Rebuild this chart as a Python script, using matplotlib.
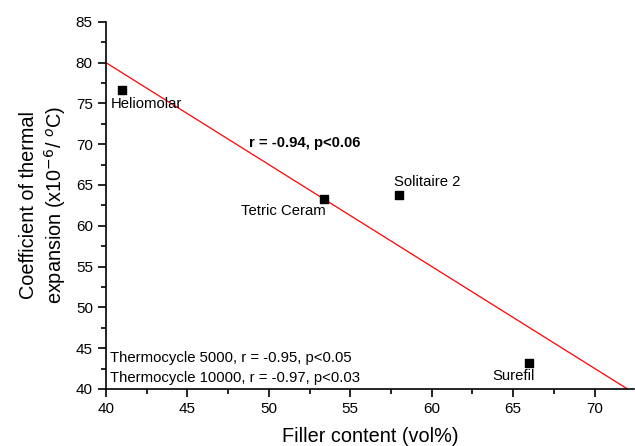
"""Filler content vs coefficient of thermal expansion."""
import numpy as np
import matplotlib
matplotlib.use('Agg')
import matplotlib.pyplot as plt
from matplotlib.ticker import MultipleLocator

plt.rcParams['font.family'] = ['Liberation Sans', 'DejaVu Sans']

materials = ['Heliomolar', 'Tetric Ceram', 'Solitaire 2', 'Surefil']
filler = [41.0, 53.4, 58.0, 66.0]
cte = [76.7, 63.3, 63.8, 43.2]
label_pos = [(40.3, 74.9), (48.3, 61.8), (57.65, 65.4), (63.7, 41.6)]
fit_range = [40, 72]

# least squares fit line
slope, icpt = np.polyfit(filler, cte, 1)
xs = np.array(fit_range)

fig = plt.figure(figsize=(6.35, 4.46), dpi=100)
ax = fig.add_axes([0.167, 0.128, 0.831, 0.823])

ax.plot(xs, slope * xs + icpt, color='red', lw=0.9, zorder=2)
ax.scatter(filler, cte, marker='s', s=38, color='black', zorder=3)

fs = 10.7
for name, (tx, ty) in zip(materials, label_pos):
    ax.text(tx, ty, name, fontsize=fs, va='center', ha='left')

ax.text(48.8, 70.2, 'r = -0.94, p<0.06', fontsize=fs, fontweight='bold',
        va='center', ha='left')
ax.text(40.25, 43.85, 'Thermocycle 5000, r = -0.95, p<0.05', fontsize=fs,
        va='center', ha='left')
ax.text(40.25, 41.3, 'Thermocycle 10000, r = -0.97, p<0.03', fontsize=fs,
        va='center', ha='left')

ax.set_xlim(40, 72.4)
ax.set_ylim(40, 85)
ax.xaxis.set_major_locator(MultipleLocator(5))
ax.xaxis.set_minor_locator(MultipleLocator(2.5))
ax.yaxis.set_major_locator(MultipleLocator(5))
ax.yaxis.set_minor_locator(MultipleLocator(2.5))
ax.tick_params(which='major', length=5.5, width=1.2, labelsize=11,
               direction='out', pad=4)
ax.tick_params(which='minor', length=3.5, width=1.2, direction='out')

for side in ['top', 'right']:
    ax.spines[side].set_visible(False)
for side in ['left', 'bottom']:
    ax.spines[side].set_linewidth(1.2)

ax.set_xlabel('Filler content (vol%)', fontsize=14.3, labelpad=8)
ax.set_ylabel('Coefficient of thermal\nexpansion (x10$^{-6}$/ $^{o}$C)',
              fontsize=14.3, labelpad=6, linespacing=1.2)

fig.savefig('out.png', dpi=100)
